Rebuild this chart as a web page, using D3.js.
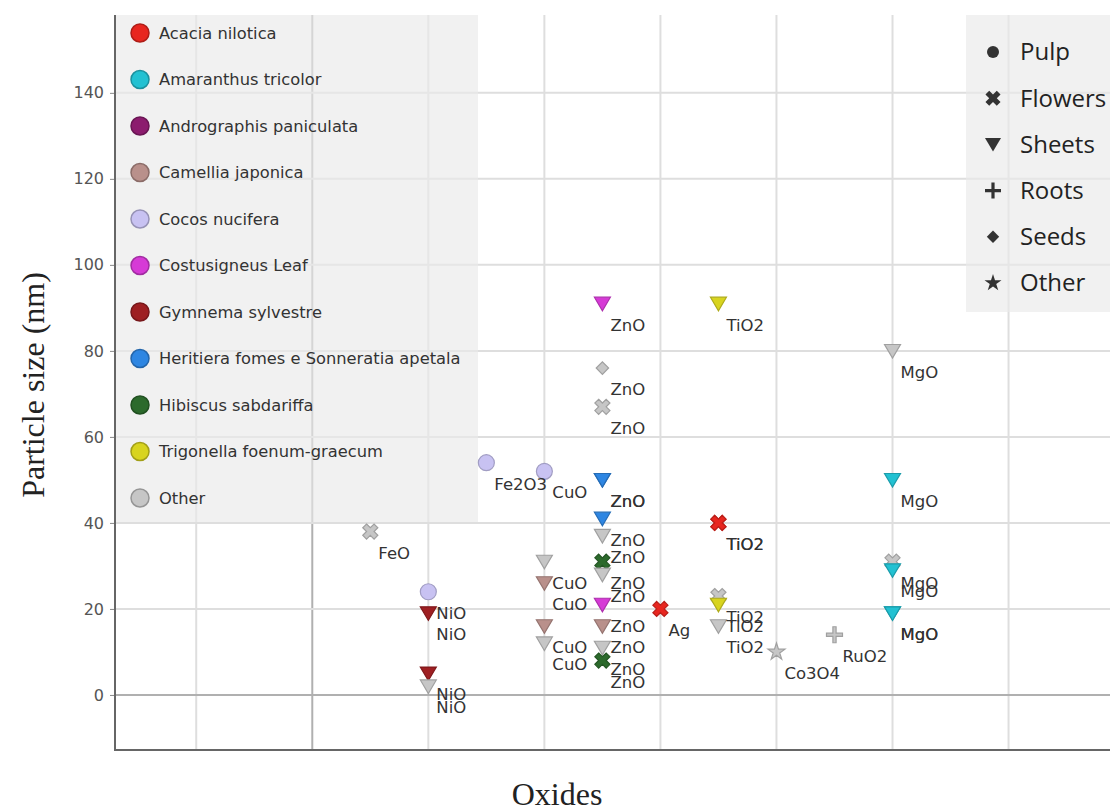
<!DOCTYPE html>
<html>
<head>
<meta charset="utf-8">
<script src="https://d3js.org/d3.v7.min.js"></script>
<style>
  body { margin: 0; background: #fff; }
</style>
</head>
<body>
<div id="graph"></div>
<script>

    // oxides and where they sit on the (hidden) x scale
    var oxides = ["FeO", "NiO", "Fe2O3", "CuO", "ZnO", "Ag", "TiO2", "Co3O4", "RuO2", "MgO"];
    var oxideX = [0.5, 1, 1.5, 2, 2.5, 3, 3.5, 4, 4.5, 5];

    var species = ["Acacia nilotica", "Amaranthus tricolor", "Andrographis paniculata", "Camellia japonica",
        "Cocos nucifera", "Costusigneus Leaf", "Gymnema sylvestre", "Heritiera fomes e Sonneratia apetala",
        "Hibiscus sabdariffa", "Trigonella foenum-graecum", "Other"];
    var speciesColors = ["#e8261f", "#22c1d2", "#8c1c6e", "#b9908b", "#c8c2f2", "#d63ad6",
        "#9e1f22", "#2e86e2", "#2c6a2c", "#d8d41f", "#c6c6c6"];

    var parts = ["Pulp", "Flowers", "Sheets", "Roots", "Seeds", "Other"];

    var yTicks = [0, 20, 40, 60, 80, 100, 120, 140];

    // one entry per point
    var pointOxide = ["FeO", "NiO", "NiO", "NiO", "NiO", "Fe2O3", "CuO", "CuO", "CuO", "CuO", "CuO",
        "ZnO", "ZnO", "ZnO", "ZnO", "ZnO", "ZnO", "ZnO", "ZnO", "ZnO", "ZnO", "ZnO", "ZnO", "ZnO",
        "Ag", "TiO2", "TiO2", "TiO2", "TiO2", "TiO2", "TiO2", "Co3O4", "RuO2",
        "MgO", "MgO", "MgO", "MgO", "MgO", "MgO"];
    var pointSpecies = ["Other", "Cocos nucifera", "Gymnema sylvestre", "Gymnema sylvestre", "Other",
        "Cocos nucifera", "Cocos nucifera", "Other", "Camellia japonica", "Camellia japonica", "Other",
        "Costusigneus Leaf", "Other", "Other", "Heritiera fomes e Sonneratia apetala", "Heritiera fomes e Sonneratia apetala",
        "Heritiera fomes e Sonneratia apetala", "Other", "Hibiscus sabdariffa", "Other", "Costusigneus Leaf",
        "Camellia japonica", "Other", "Hibiscus sabdariffa",
        "Acacia nilotica", "Trigonella foenum-graecum", "Acacia nilotica", "Acacia nilotica", "Other",
        "Trigonella foenum-graecum", "Other", "Other", "Other",
        "Other", "Amaranthus tricolor", "Other", "Amaranthus tricolor", "Amaranthus tricolor", "Amaranthus tricolor"];
    var pointPart = ["Flowers", "Pulp", "Sheets", "Sheets", "Sheets", "Pulp", "Pulp", "Sheets", "Sheets", "Sheets", "Sheets",
        "Sheets", "Seeds", "Flowers", "Sheets", "Sheets", "Sheets", "Sheets", "Flowers", "Sheets", "Sheets",
        "Sheets", "Sheets", "Flowers",
        "Flowers", "Sheets", "Flowers", "Flowers", "Flowers", "Sheets", "Sheets", "Other", "Roots",
        "Sheets", "Sheets", "Flowers", "Sheets", "Sheets", "Sheets"];
    var pointSize = [38, 24, 19, 5, 2, 54, 52, 31, 26, 16, 12,
        91, 76, 67, 50, 50, 41, 37, 31, 28, 21, 16, 11, 8,
        20, 91, 40, 40, 23, 21, 16, 10, 14,
        80, 50, 31, 29, 19, 19];

    var svg = d3.select("#graph")
        .append("svg")
        .attr("width", 1110)
        .attr("height", 812);

    var x = d3.scaleLinear()
        .domain([-1.7, 6.9])
        .range([115, 1113]);

    var y = d3.scaleLinear()
        .domain([-12.8, 158.1])
        .range([750, 15]);

    var posOf = d3.scaleOrdinal().domain(oxides).range(oxideX);
    var colorOf = d3.scaleOrdinal().domain(species).range(speciesColors);

    // grid
    var grid = svg.append("g");
    grid.selectAll(".vg")
        .data(d3.range(-1, 7))
        .enter()
        .append("line")
        .attr("x1", function (d) { return x(d); })
        .attr("x2", function (d) { return x(d); })
        .attr("y1", 15)
        .attr("y2", 750)
        .style("stroke", function (d) { return d == 0 ? "#b0b0b0" : "#dedede"; })
        .style("stroke-width", 2);
    grid.selectAll(".hg")
        .data(yTicks)
        .enter()
        .append("line")
        .attr("x1", 115)
        .attr("x2", 1110)
        .attr("y1", function (d) { return y(d); })
        .attr("y2", function (d) { return y(d); })
        .style("stroke", function (d) { return d == 0 ? "#b0b0b0" : "#dedede"; })
        .style("stroke-width", 2);

    // legend boxes (drawn under the points, gridlines show through)
    svg.append("rect")
        .attr("x", 115)
        .attr("y", 15)
        .attr("width", 363)
        .attr("height", 507)
        .style("fill", "#e9e9e9")
        .style("opacity", 0.65);

    svg.append("rect")
        .attr("x", 966)
        .attr("y", 15)
        .attr("width", 160)
        .attr("height", 297)
        .style("fill", "#e9e9e9")
        .style("opacity", 0.65);

    // axes
    var yAxis = svg.append("g")
        .attr("transform", "translate(115,0)")
        .call(d3.axisLeft(y).tickValues(yTicks).tickSize(5).tickPadding(6));
    yAxis.select(".domain").remove();
    yAxis.selectAll(".tick line").style("stroke", "#888");
    yAxis.selectAll("text")
        .style("font-family", "DejaVu Sans")
        .style("font-size", "16px")
        .style("fill", "#555");

    svg.append("line")
        .attr("x1", 115).attr("x2", 115)
        .attr("y1", 15).attr("y2", 751)
        .style("stroke", "#666")
        .style("stroke-width", 2);
    svg.append("line")
        .attr("x1", 114).attr("x2", 1110)
        .attr("y1", 750).attr("y2", 750)
        .style("stroke", "#666")
        .style("stroke-width", 2);

    svg.append("text")
        .attr("transform", "translate(44,385) rotate(-90)")
        .attr("text-anchor", "middle")
        .style("font-family", "Liberation Serif")
        .style("font-size", "32px")
        .style("fill", "#222")
        .text("Particle size (nm)");

    svg.append("text")
        .attr("x", 557)
        .attr("y", 805)
        .attr("text-anchor", "middle")
        .style("font-family", "Liberation Serif")
        .style("font-size", "32px")
        .style("fill", "#222")
        .text("Oxides");

    // marker shapes
    function shape(part, s) {
        var h = s / 2;
        if (part == "Pulp") return d3.symbol(d3.symbolCircle, Math.PI * h * h)();
        if (part == "Sheets") return "M" + (-h) + "," + (-h * 0.8) + "L" + h + "," + (-h * 0.8) + "L0," + (h * 0.9) + "Z";
        if (part == "Flowers") return d3.symbol(d3.symbolCross, 5 * Math.pow(s / 3, 2))();
        if (part == "Roots") {
            var w = s * 0.1;
            return "M" + (-h) + "," + (-w) + "H" + (-w) + "V" + (-h) + "H" + w + "V" + (-w) + "H" + h +
                "V" + w + "H" + w + "V" + h + "H" + (-w) + "V" + w + "H" + (-h) + "Z";
        }
        if (part == "Seeds") return d3.symbol(d3.symbolSquare, s * s * 0.3)();
        return d3.symbol(d3.symbolStar, s * s * 0.35)();
    }
    function rot(part) {
        return (part == "Flowers" || part == "Seeds") ? " rotate(45)" : "";
    }

    var points = d3.range(pointSize.length);

    var marks = svg.append("g");
    marks.selectAll("path")
        .data(points)
        .enter()
        .append("path")
        .attr("d", function (i) { return shape(pointPart[i], 16); })
        .attr("transform", function (i) {
            return "translate(" + x(posOf(pointOxide[i])) + "," + y(pointSize[i]) + ")" + rot(pointPart[i]);
        })
        .style("fill", function (i) { return colorOf(pointSpecies[i]); })
        .style("stroke", function (i) { return d3.color(colorOf(pointSpecies[i])).darker(0.6); })
        .style("stroke-width", 1.2);

    svg.append("g")
        .selectAll("text")
        .data(points)
        .enter()
        .append("text")
        .attr("x", function (i) { return x(posOf(pointOxide[i])) + 8; })
        .attr("y", function (i) { return y(pointSize[i]) + 27; })
        .style("font-family", "DejaVu Sans")
        .style("font-size", "16.5px")
        .style("fill", "#333")
        .text(function (i) { return pointOxide[i]; });

    // species legend
    var leg = svg.append("g")
        .selectAll("g")
        .data(species)
        .enter()
        .append("g")
        .attr("transform", function (d, i) { return "translate(140," + (33 + i * 46.5) + ")"; });
    leg.append("circle")
        .attr("r", 9)
        .style("fill", function (d) { return colorOf(d); })
        .style("stroke", function (d) { return d3.color(colorOf(d)).darker(0.8); })
        .style("stroke-width", 1.5);
    leg.append("text")
        .attr("x", 19)
        .attr("dy", "0.35em")
        .style("font-family", "DejaVu Sans")
        .style("font-size", "16.3px")
        .style("fill", "#333")
        .text(function (d) { return d; });

    // plant part legend
    var leg2 = svg.append("g")
        .selectAll("g")
        .data(parts)
        .enter()
        .append("g")
        .attr("transform", function (d, i) { return "translate(993," + (52 + i * 46.2) + ")"; });
    leg2.append("path")
        .attr("d", function (d) { return shape(d, d == "Pulp" ? 12 : 16); })
        .attr("transform", function (d) { return rot(d).trim(); })
        .style("fill", "#333");
    leg2.append("text")
        .attr("x", 27)
        .attr("dy", "0.35em")
        .style("font-family", "Open Sans")
        .style("font-size", "24px")
        .style("fill", "#222")
        .text(function (d) { return d; });

</script>
</body>
</html>
